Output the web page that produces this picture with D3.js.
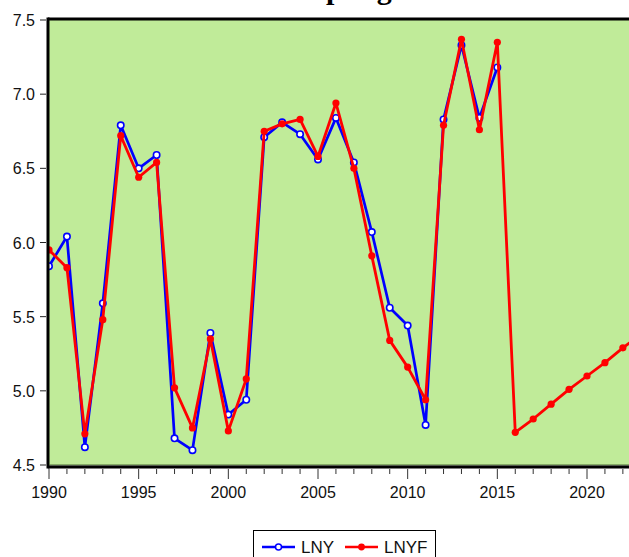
<!DOCTYPE html>
<html>
<head>
<meta charset="utf-8">
<script src="https://cdn.jsdelivr.net/npm/d3@7"></script>
<style>
  body { margin: 0; background: #fff; }
  svg { display: block; }
</style>
</head>
<body>
<div id="chart"></div>
<script>
// values
var yearsLNY = d3.range(1990, 2016)
var lny = [5.84, 6.04, 4.62, 5.59, 6.79, 6.50, 6.59, 4.68, 4.60, 5.39,
           4.84, 4.94, 6.71, 6.81, 6.73, 6.56, 6.84, 6.54, 6.07, 5.56,
           5.44, 4.77, 6.83, 7.33, 6.84, 7.18]
var yearsLNYF = d3.range(1990, 2024)
var lnyf = [5.95, 5.83, 4.71, 5.48, 6.72, 6.44, 6.54, 5.02, 4.75, 5.35,
            4.73, 5.08, 6.75, 6.80, 6.83, 6.58, 6.94, 6.50, 5.91, 5.34,
            5.16, 4.94, 6.79, 7.37, 6.76, 7.35, 4.72, 4.81, 4.91, 5.01,
            5.10, 5.19, 5.29, 5.38]
var yTicks = [4.5, 5.0, 5.5, 6.0, 6.5, 7.0, 7.5]
var xLabels = [1990, 1995, 2000, 2005, 2010, 2015, 2020]
var seriesNames = ['LNY', 'LNYF']
var title = 'Output growth'

var width = 629, height = 557
var plotLeft = 49, plotTop = 20, plotBottom = 465

var svg = d3.select('#chart').append('svg')
    .attr('width', width).attr('height', height)

var x = d3.scaleLinear().domain([1990, 2020]).range([plotLeft, 587])
var y = d3.scaleLinear().domain([4.5, 7.5]).range([plotBottom, plotTop])

// title, mostly above the visible area (only descenders show)
var t = svg.append('text')
    .attr('x', 0).attr('y', 0)
    .attr('font-family', 'Liberation Serif, Times New Roman, serif')
    .attr('font-weight', 'bold')
    .attr('font-size', 30)
    .text(title)
var pPos = t.node().getStartPositionOfChar(3).x
t.attr('x', 326 - pPos).attr('y', -1.5)

svg.append('defs').append('clipPath').attr('id', 'clip')
    .append('rect').attr('x', plotLeft).attr('y', plotTop)
    .attr('width', width - plotLeft).attr('height', plotBottom - plotTop)

svg.append('rect')
    .attr('x', plotLeft).attr('y', plotTop)
    .attr('width', width - plotLeft + 5).attr('height', plotBottom - plotTop)
    .attr('fill', '#c0eb99')

// y axis ticks and labels
svg.selectAll('.ytick').data(yTicks).enter().append('line')
    .attr('x1', 40).attr('x2', 46)
    .attr('y1', d => y(d)).attr('y2', d => y(d))
    .attr('stroke', '#222').attr('stroke-width', 1)
svg.selectAll('.ylab').data(yTicks).enter().append('text')
    .attr('x', 35).attr('y', d => y(d) + 6)
    .attr('text-anchor', 'end')
    .attr('font-family', 'Liberation Sans, Arial, sans-serif')
    .attr('font-size', 16)
    .attr('fill', '#111')
    .text(d => d3.format('.1f')(d))

// x ticks every year, long ones every 5
svg.selectAll('.xtick').data(d3.range(1990, 2024)).enter().append('line')
    .attr('x1', d => x(d)).attr('x2', d => x(d))
    .attr('y1', 469).attr('y2', d => d % 5 == 0 ? 479 : 474)
    .attr('stroke', '#333').attr('stroke-width', 1)
svg.selectAll('.xlab').data(xLabels).enter().append('text')
    .attr('x', d => x(d)).attr('y', 498)
    .attr('text-anchor', 'middle')
    .attr('font-family', 'Liberation Sans, Arial, sans-serif')
    .attr('font-size', 16)
    .attr('fill', '#111')
    .text(d => d)

var plot = svg.append('g').attr('clip-path', 'url(#clip)')

var line = d3.line().x(d => x(d[0])).y(d => y(d[1]))
var blueData = yearsLNY.map((yr, i) => [yr, lny[i]])
var redData = yearsLNYF.map((yr, i) => [yr, lnyf[i]])

plot.append('path').attr('d', line(blueData))
    .attr('fill', 'none').attr('stroke', '#0000ff').attr('stroke-width', 2.7)
    .attr('stroke-linejoin', 'round')
plot.selectAll('.bdot').data(blueData).enter().append('circle')
    .attr('cx', d => x(d[0])).attr('cy', d => y(d[1])).attr('r', 3.2)
    .attr('fill', '#fff').attr('stroke', '#0000ff').attr('stroke-width', 1.6)

plot.append('path').attr('d', line(redData))
    .attr('fill', 'none').attr('stroke', '#ff0000').attr('stroke-width', 2.8)
    .attr('stroke-linejoin', 'round')
plot.selectAll('.rdot').data(redData).enter().append('circle')
    .attr('cx', d => x(d[0])).attr('cy', d => y(d[1])).attr('r', 3.6)
    .attr('fill', '#ff0000')

// frame
svg.append('line').attr('x1', plotLeft - 1).attr('x2', width).attr('y1', plotTop - 1).attr('y2', plotTop - 1)
    .attr('stroke', '#000').attr('stroke-width', 3)
svg.append('line').attr('x1', plotLeft - 1).attr('x2', plotLeft - 1).attr('y1', plotTop - 2.5).attr('y2', plotBottom + 3.5)
    .attr('stroke', '#000').attr('stroke-width', 3)
svg.append('line').attr('x1', plotLeft).attr('x2', width).attr('y1', plotBottom).attr('y2', plotBottom)
    .attr('stroke', '#4a6b32').attr('stroke-width', 1)
svg.append('line').attr('x1', plotLeft - 1).attr('x2', width).attr('y1', plotBottom + 2).attr('y2', plotBottom + 2)
    .attr('stroke', '#000').attr('stroke-width', 3)

// legend
var lg = svg.append('g')
lg.append('rect').attr('x', 253.5).attr('y', 530.5).attr('width', 182).attr('height', 40)
    .attr('fill', '#fff').attr('stroke', '#000').attr('stroke-width', 1)
var colors = ['#0000ff', '#ff0000']
var lx = [262, 345]
seriesNames.forEach((name, i) => {
    lg.append('line').attr('x1', lx[i]).attr('x2', lx[i] + 33).attr('y1', 547).attr('y2', 547)
        .attr('stroke', colors[i]).attr('stroke-width', 2.5)
    lg.append('circle').attr('cx', lx[i] + 16.5).attr('cy', 547).attr('r', i == 0 ? 3 : 3.4)
        .attr('fill', i == 0 ? '#fff' : colors[i]).attr('stroke', colors[i]).attr('stroke-width', i == 0 ? 1.5 : 0)
    lg.append('text').attr('x', lx[i] + 39).attr('y', 553)
        .attr('font-family', 'Liberation Sans, Arial, sans-serif')
        .attr('font-size', 17).attr('fill', '#111')
        .text(name)
})
</script>
</body>
</html>
